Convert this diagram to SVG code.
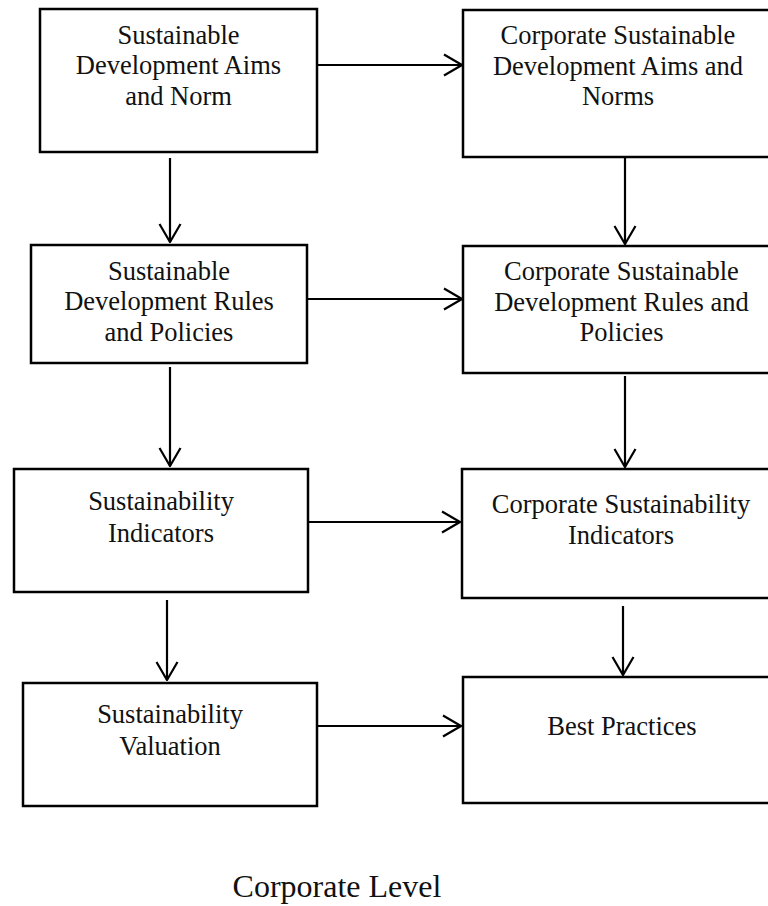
<svg xmlns="http://www.w3.org/2000/svg" width="768" height="906" viewBox="0 0 768 906">
<style>
.box{fill:#fff;stroke:#000;stroke-width:2.5}
.t{font-family:"Liberation Serif","Times New Roman",serif;font-size:26.5px;fill:#111;text-anchor:middle}
.c{fill:none;stroke:#000;stroke-width:2.2}
</style>
<defs>
<marker id="arr" markerUnits="userSpaceOnUse" viewBox="0 0 20 24" refX="19" refY="12" markerWidth="20" markerHeight="24" orient="auto">
<path d="M1,1.5 L19,12 L1,22.5" fill="none" stroke="#000" stroke-width="2.2"/>
</marker>
</defs>
<rect width="768" height="906" fill="#fff"/>
<g id="n1"><rect class="box" x="40" y="9" width="277" height="143"/>
<text class="t" x="178.5" y="44">Sustainable</text><text class="t" x="178.5" y="74">Development Aims</text><text class="t" x="178.5" y="105">and Norm</text></g>
<g id="n2"><rect class="box" x="463" y="10" width="320" height="147"/>
<text class="t" x="618" y="44">Corporate Sustainable</text><text class="t" x="618" y="75">Development Aims and</text><text class="t" x="618" y="105">Norms</text></g>
<g id="n3"><rect class="box" x="31" y="245" width="276" height="118"/>
<text class="t" x="169" y="280">Sustainable</text><text class="t" x="169" y="310">Development Rules</text><text class="t" x="169" y="341">and Policies</text></g>
<g id="n4"><rect class="box" x="463" y="246" width="320" height="127"/>
<text class="t" x="621.5" y="280">Corporate Sustainable</text><text class="t" x="621.5" y="311">Development Rules and</text><text class="t" x="621.5" y="341">Policies</text></g>
<g id="n5"><rect class="box" x="14" y="469" width="294" height="123"/>
<text class="t" x="161" y="510">Sustainability</text><text class="t" x="161" y="542">Indicators</text></g>
<g id="n6"><rect class="box" x="462" y="469" width="320" height="129"/>
<text class="t" x="621" y="513">Corporate Sustainability</text><text class="t" x="621" y="544">Indicators</text></g>
<g id="n7"><rect class="box" x="23" y="683" width="294" height="123"/>
<text class="t" x="170" y="723">Sustainability</text><text class="t" x="170" y="755">Valuation</text></g>
<g id="n8"><rect class="box" x="463" y="677" width="320" height="126"/>
<text class="t" x="622" y="735">Best Practices</text></g>
<g id="label"><text class="t" x="337" y="897" style="font-size:32px">Corporate Level</text></g>
<g id="connectors">
<line class="c" x1="317" y1="65" x2="462" y2="65" marker-end="url(#arr)"/>
<line class="c" x1="307" y1="299" x2="462" y2="299" marker-end="url(#arr)"/>
<line class="c" x1="308" y1="522" x2="460" y2="522" marker-end="url(#arr)"/>
<line class="c" x1="317" y1="726" x2="461" y2="726" marker-end="url(#arr)"/>
<line class="c" x1="170" y1="158" x2="170" y2="242" marker-end="url(#arr)"/>
<line class="c" x1="625" y1="157" x2="625" y2="244" marker-end="url(#arr)"/>
<line class="c" x1="170" y1="367" x2="170" y2="466" marker-end="url(#arr)"/>
<line class="c" x1="625" y1="376" x2="625" y2="467" marker-end="url(#arr)"/>
<line class="c" x1="167" y1="600" x2="167" y2="680" marker-end="url(#arr)"/>
<line class="c" x1="623" y1="606" x2="623" y2="675" marker-end="url(#arr)"/>
</g>
</svg>
